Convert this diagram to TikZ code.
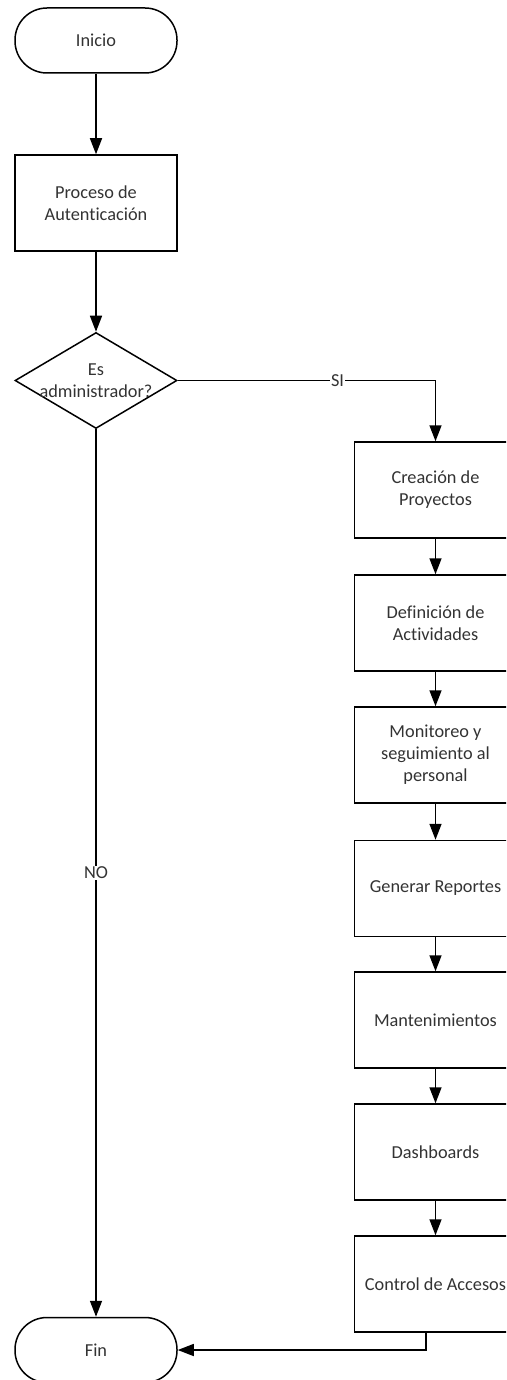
\documentclass[tikz,border=0pt]{standalone}
\usepackage{fontspec}
\setmainfont{Carlito}[Ligatures=NoCommon]
\usetikzlibrary{shapes.geometric,arrows.meta}
\begin{document}
\begin{tikzpicture}[x=1pt,y=-1pt,
  every node/.style={font=\fontsize{18.3}{22}\selectfont, text=black!80},
  term/.style={draw=black, line width=1.5pt, rectangle, rounded corners=32pt,
    minimum width=162pt, minimum height=65pt, inner sep=0pt, align=center},
  proc/.style={draw=black, line width=1.5pt, rectangle,
    minimum width=162pt, minimum height=96pt, inner sep=0pt, align=center},
  decis/.style={draw=black, line width=1.5pt, diamond, aspect=1.69,
    minimum width=162pt, minimum height=96pt, inner sep=0pt},
  conn/.style={line width=1.5pt, draw=black, -{Triangle[length=16pt,width=12pt]}},
  lbl/.style={fill=white, inner sep=1pt}
]
\path[use as bounding box, clip] (0,0) rectangle (506,1380);

\node[term] (ini) at (96,40.5) {Inicio};
\node[proc] (aut) at (96,203) {Proceso de\\Autenticación};
\node[decis, label={[align=center]center:Es\\administrador?}] (adm) at (96,380.5) {};

\node[proc] (c1) at (435.5,490) {Creación de\\Proyectos};
\node[proc] (c2) at (435.5,623) {Definición de\\Actividades};
\node[proc] (c3) at (435.5,755) {Monitoreo y\\seguimiento al\\personal};
\node[proc] (c4) at (435.5,888.5) {Generar Reportes};
\node[proc] (c5) at (435.5,1020) {Mantenimientos};
\node[proc] (c6) at (435.5,1152) {Dashboards};
\node[proc] (c7) at (435.5,1284) {Control de Accesos};

\node[term] (fin) at (96,1350) {Fin};

\coordinate (c7out) at (426,1333);

\draw[conn] (ini) -- (aut);
\draw[conn] (aut) -- (adm);
\draw[conn] (adm.east) -| node[pos=0.31, lbl] {SI} (c1.north);
\draw[conn] (adm.south) -- node[lbl] {NO} (fin.north);
\draw[conn] (c1) -- (c2);
\draw[conn] (c2) -- (c3);
\draw[conn] (c3) -- (c4);
\draw[conn] (c4) -- (c5);
\draw[conn] (c5) -- (c6);
\draw[conn] (c6) -- (c7);
\draw[conn] (c7out) |- (fin.east);
\end{tikzpicture}
\end{document}
